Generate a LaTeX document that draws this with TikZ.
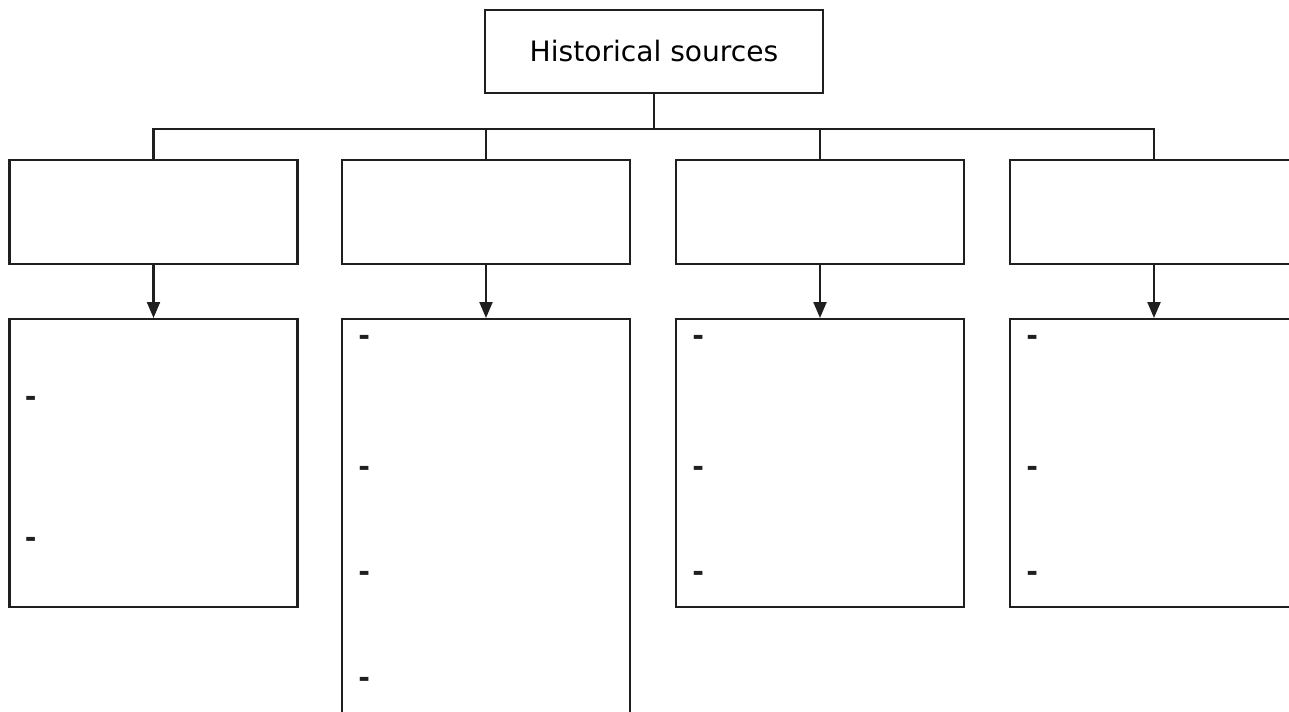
\documentclass[tikz,border=0pt]{standalone}
\usepackage{fontspec}
\setmainfont{DejaVu Sans}
\usetikzlibrary{arrows.meta, positioning, calc}
\colorlet{inkgray}{black!88}

\begin{document}
\begin{tikzpicture}[
  x = 0.02cm, y = -0.02cm,
  font          = \fontsize{16}{19}\selectfont,
  %
  % -- Node styles -------------------------------------------------
  box/.style      = {draw=inkgray, line width=1.25pt, inner sep=0pt,
                     minimum width=5.76cm},
  catbox/.style   = {box, minimum height=2.08cm},
  listbox/.style  = {box, anchor=north, minimum height=5.76cm},
  itemdash/.style = {inner sep=0pt, anchor=west, text=inkgray,
                     font=\fontsize{16}{19}\selectfont\bfseries},
  link/.style     = {draw=inkgray, line width=1.25pt},
  arrow/.style    = {link, -{Triangle[length=0.32cm, width=0.26cm]}},
]

\useasboundingbox (0,0) rectangle (1289,711);
\clip (0,0) rectangle (1289,711);

%% -- Root --------------------------------------------------------
\node[box, minimum width=6.76cm, minimum height=1.66cm] (src)
  at (654,51.5) {Historical sources};

%% -- Categories (empty) -----------------------------------------
\node[catbox] (cat1) at (153.5,212) {};
\node[catbox] (cat2) at (486,212)   {};
\node[catbox] (cat3) at (820,212)   {};
\node[catbox] (cat4) at (1154,212)  {};

%% -- Lists -------------------------------------------------------
\node[listbox] (list1) at (153.5,318) {};
\node[listbox, minimum height=8.44cm] (list2) at (486,318) {};
\node[listbox] (list3) at (820,318) {};
\node[listbox] (list4) at (1154,318) {};

%% -- Dashes ------------------------------------------------------
\node[itemdash] (d11) at ($(list1.north west)+(16,83)$)  {-};
\node[itemdash] (d12) at ($(list1.north west)+(16,224)$) {-};

\node[itemdash] (d21) at ($(list2.north west)+(17,22)$)  {-};
\node[itemdash] (d22) at ($(list2.north west)+(17,153)$) {-};
\node[itemdash] (d23) at ($(list2.north west)+(17,258)$) {-};
\node[itemdash] (d24) at ($(list2.north west)+(17,364)$) {-};

\foreach \i in {3,4} {
  \node[itemdash] (d\i1) at ($(list\i.north west)+(17,22)$)  {-};
  \node[itemdash] (d\i2) at ($(list\i.north west)+(17,153)$) {-};
  \node[itemdash] (d\i3) at ($(list\i.north west)+(17,258)$) {-};
}

%% -- Connectors --------------------------------------------------
\foreach \i in {1,...,4} {
  \draw[link]  (src.south) -- ++(0,35) -| (cat\i.north);
  \draw[arrow] (cat\i.south) -- (list\i.north);
}

\end{tikzpicture}
\end{document}
